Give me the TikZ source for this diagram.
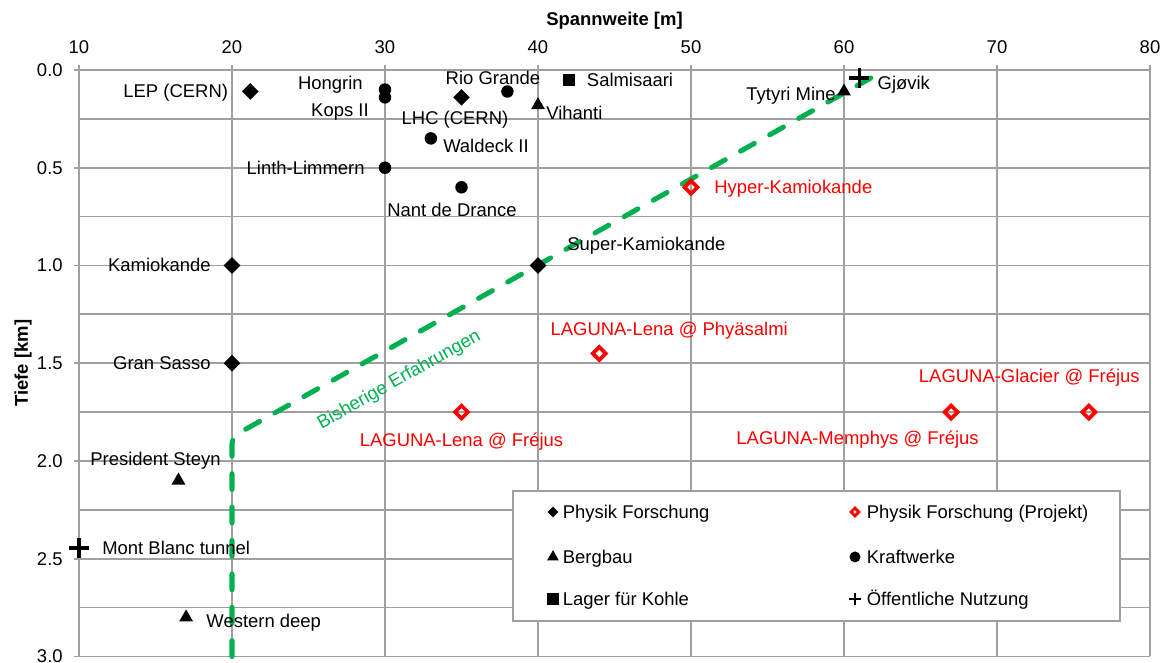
\documentclass[tikz,border=0pt]{standalone}
\usepackage{fontspec}
\setmainfont{Liberation Sans}
\usepackage{tikz}
\usetikzlibrary{
    positioning,
    shapes.geometric,
    shapes.misc
}
\definecolor{gridgray}{HTML}{A0A0A0}
\definecolor{expgreen}{HTML}{00B050}
\definecolor{projred}{HTML}{FF0000}
\tikzset{
    every node/.style={font=\fontsize{10.5}{12.6}\selectfont},
    gridline/.style={gridgray, line width=1pt},
    lbl/.style={inner sep=0pt, text height=0.72em, text depth=0pt},
    plbl/.style={lbl, text=projred},
    axistitle/.style={font=\fontsize{10.5}{12.6}\selectfont\bfseries},
    phys/.style={diamond, fill=black, inner sep=0pt, minimum size=0.34cm},     % Physik Forschung
    proj/.style={diamond, draw=projred, line width=2.1pt, inner sep=0pt, minimum size=0.29cm}, % Projekt
    mine/.style={regular polygon, regular polygon sides=3, fill=black, inner sep=0pt, minimum size=0.32cm},
    plant/.style={circle, fill=black, inner sep=0pt, minimum size=0.25cm},
    store/.style={rectangle, fill=black, inner sep=0pt, minimum size=0.24cm},
    public/.style={cross out, draw=black, rotate=45, line width=2pt, inner sep=0pt, minimum size=0.21cm},
    experience/.style={expgreen, line width=2.85pt, dash pattern=on 9pt off 10pt, line cap=round, rounded corners=0.15cm}
}

\begin{document}
\begin{tikzpicture}[x=0.306cm, y=-3.91cm]
    \useasboundingbox (4.837,-0.358) rectangle (81.242,3.033);
    % grid and axes
    \foreach \y in {0,0.25,...,3}
        \draw[gridline] (10,\y) -- (80,\y);
    \foreach \x [count=\i] in {10,20,...,80} {
        \draw[gridline] (\x,0) -- (\x,3);
        \draw[gridline] (\x,0) -- ++(0,0.1cm);
        \node[lbl, above=0.33cm] (xtick\i) at (\x,0) {\x};
    }
    \foreach \y/\t [count=\i] in {0/0.0,0.5/0.5,1/1.0,1.5/1.5,2/2.0,2.5/2.5,3/3.0} {
        \draw[gridline] (10,\y) -- ++(-0.1cm,0);
        \node[lbl, left=0.32cm] (ytick\i) at (10,\y) {\t};
    }
    \node[axistitle] (xtitle) at (45,-0.25) {Spannweite [m]};
    \node[axistitle, rotate=90] (ytitle) at (6.34,1.5) {Tiefe [km]};

    % bisherige Erfahrungen
    \draw[experience] (20,3) -- (20,1.877)
        -- node[lbl, text=expgreen, sloped, pos=0.232, below=0.44cm] (bisherige) {Bisherige Erfahrungen} (62.68,0);

    % Physik Forschung
    \node[phys] (lep) at (21.2,0.11) {};
    \node[lbl, left=0.44cm of lep.center] (leplbl) {LEP (CERN)};
    \node[phys] (lhc) at (35,0.14) {};
    \node[lbl, below=0.29cm of lhc.center, xshift=-0.13cm] (lhclbl) {LHC (CERN)};
    \node[phys] (kamiokande) at (20,1) {};
    \node[lbl, left=0.42cm of kamiokande.center] (kamiokandelbl) {Kamiokande};
    \node[phys] (superk) at (40,1) {};
    \node[lbl, right=0.58cm of superk.center, yshift=0.42cm] (superklbl) {Super-Kamiokande};
    \node[phys] (gransasso) at (20,1.5) {};
    \node[lbl, left=0.42cm of gransasso.center] (gransassolbl) {Gran Sasso};

    % Kraftwerke
    \node[plant] (hongrin) at (30,0.10) {};
    \node[lbl, left=0.44cm of hongrin.center, yshift=0.12cm] (hongrinlbl) {Hongrin};
    \node[plant] (kops) at (30,0.14) {};
    \node[lbl, left=0.32cm of kops.center, yshift=-0.26cm] (kopslbl) {Kops II};
    \node[plant] (linth) at (30,0.5) {};
    \node[lbl, left=0.40cm of linth.center] (linthlbl) {Linth-Limmern};
    \node[plant] (riogrande) at (38,0.11) {};
    \node[lbl, above=0.13cm of riogrande.center, xshift=-0.29cm] (riograndelbl) {Rio Grande};
    \node[plant] (waldeck) at (33,0.35) {};
    \node[lbl, right=0.24cm of waldeck.center, yshift=-0.16cm] (waldecklbl) {Waldeck II};
    \node[plant] (nant) at (35,0.6) {};
    \node[lbl, below=0.33cm of nant.center, xshift=-0.19cm] (nantlbl) {Nant de Drance};

    % Lager
    \node[store] (salmisaari) at (42,0.05) {};
    \node[lbl, right=0.36cm of salmisaari.center] (salmisaarilbl) {Salmisaari};

    % Bergbau
    \node[mine] (vihanti) at (40,0.18) {};
    \node[lbl, right=0.16cm of vihanti.center, yshift=-0.16cm] (vihantilbl) {Vihanti};
    \node[mine] (tytyri) at (60,0.11) {};
    \node[lbl, left=0.16cm of tytyri.center, yshift=-0.06cm] (tytyrilbl) {Tytyri Mine};
    \node[mine] (steyn) at (16.5,2.1) {};
    \node[lbl, above=0.29cm of steyn.center, xshift=-0.46cm] (steynlbl) {President Steyn};
    \node[mine] (western) at (17,2.8) {};
    \node[lbl, right=0.40cm of western.center, yshift=-0.08cm] (westernlbl) {Western deep};

    % Oeffentliche Nutzung
    \node[public] (gjovik) at (61,0.04) {};
    \node[lbl, right=0.36cm of gjovik.center, yshift=-0.1cm] (gjoviklbl) {Gjøvik};
    \node[public] (montblanc) at (10,2.445) {};
    \node[lbl, right=0.46cm of montblanc.center] (montblanclbl) {Mont Blanc tunnel};

    % Projekte
    \node[proj] (hyperk) at (50,0.6) {};
    \node[plbl, right=0.46cm of hyperk.center] (hyperklbl) {Hyper-Kamiokande};
    \node[proj] (phyasalmi) at (44,1.45) {};
    \node[plbl, above=0.35cm of phyasalmi.center, xshift=1.4cm] (phyasalmilbl) {LAGUNA-Lena @ Phyäsalmi};
    \node[proj] (lenafrejus) at (35,1.75) {};
    \node[plbl, below=0.43cm of lenafrejus.center] (lenafrejuslbl) {LAGUNA-Lena @ Fréjus};
    \node[proj] (memphys) at (67,1.75) {};
    \node[plbl, below=0.39cm of memphys.center, xshift=-1.87cm] (memphyslbl) {LAGUNA-Memphys @ Fréjus};
    \node[proj] (glacier) at (76,1.75) {};
    \node[plbl, above=0.59cm of glacier.center, xshift=-1.19cm] (glacierlbl) {LAGUNA-Glacier @ Fréjus};

    % legend
    \node[draw=gridgray, fill=white, line width=1pt, inner sep=0pt, minimum width=12.14cm,
        minimum height=2.6cm, anchor=north west] (legend) at (38.30,2.148) {};
    \node[phys, minimum size=0.22cm] (legphys) at ([shift={(0.82cm,-0.44cm)}]legend.north west) {};
    \node[lbl, right=0.19cm of legphys.center] (legphyslbl) {Physik Forschung};
    \node[mine, minimum size=0.27cm] (legmine) at ([shift={(0.82cm,-1.34cm)}]legend.north west) {};
    \node[lbl, right=0.19cm of legmine.center] (legminelbl) {Bergbau};
    \node[store, minimum size=0.23cm] (legstore) at ([shift={(0.82cm,-2.18cm)}]legend.north west) {};
    \node[lbl, right=0.19cm of legstore.center] (legstorelbl) {Lager für Kohle};
    \node[proj, minimum size=0.18cm, line width=1.6pt] (legproj) at ([shift={(6.86cm,-0.44cm)}]legend.north west) {};
    \node[lbl, right=0.23cm of legproj.center] (legprojlbl) {Physik Forschung (Projekt)};
    \node[plant, minimum size=0.22cm] (legplant) at ([shift={(6.86cm,-1.34cm)}]legend.north west) {};
    \node[lbl, right=0.23cm of legplant.center] (legplantlbl) {Kraftwerke};
    \node[public, minimum size=0.11cm, line width=1.5pt] (legpublic) at ([shift={(6.86cm,-2.18cm)}]legend.north west) {};
    \node[lbl, right=0.23cm of legpublic.center] (legpubliclbl) {Öffentliche Nutzung};
\end{tikzpicture}
\end{document}
